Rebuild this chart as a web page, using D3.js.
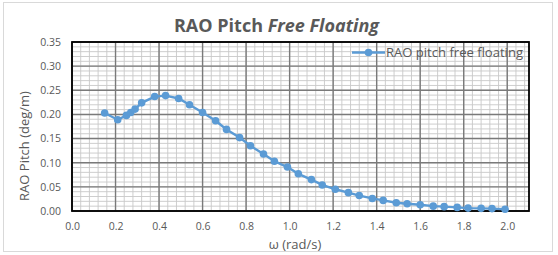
<!DOCTYPE html>
<html lang="en">
  <head>
    <meta charset="UTF-8" />
    <title>RAO Pitch Free Floating</title>
    <style>
      body { margin: 0; background: #fff; }
      text { font-family: "Open Sans", "Liberation Sans", sans-serif; fill: #595959; }
    </style>
  </head>
  <body>
    <svg width="558" height="255"></svg>
    <script src="https://cdnjs.cloudflare.com/ajax/libs/d3/7.8.5/d3.min.js"></script>
    <script>
      // values
      var omega = [0.15, 0.21, 0.25, 0.27, 0.29, 0.32, 0.38, 0.43, 0.49, 0.54,
        0.60, 0.66, 0.71, 0.77, 0.82, 0.88, 0.93, 0.99, 1.04, 1.10,
        1.15, 1.21, 1.27, 1.32, 1.38, 1.43, 1.49, 1.54, 1.60, 1.66,
        1.71, 1.77, 1.82, 1.88, 1.93, 1.99];
      var raoPitch = [0.203, 0.189, 0.198, 0.204, 0.211, 0.224, 0.237, 0.239, 0.233, 0.220,
        0.204, 0.187, 0.169, 0.152, 0.135, 0.118, 0.103, 0.091, 0.077, 0.065,
        0.054, 0.045, 0.038, 0.032, 0.026, 0.022, 0.017, 0.015, 0.013, 0.010,
        0.009, 0.0075, 0.006, 0.0055, 0.005, 0.0035];
      var xTicks = [0, 0.2, 0.4, 0.6, 0.8, 1.0, 1.2, 1.4, 1.6, 1.8, 2.0];
      var yTicks = [0, 0.05, 0.1, 0.15, 0.2, 0.25, 0.3, 0.35];
      var seriesName = "RAO pitch free floating";

      var svg = d3.select("svg");
      var m = { left: 72, right: 529, top: 42, bottom: 211 };

      var x = d3.scaleLinear().domain([0, 2.1]).range([m.left, m.right]);
      var y = d3.scaleLinear().domain([0, 0.35]).range([m.bottom, m.top]);

      // outer chart frame
      svg.append("rect")
        .attr("x", 3.5).attr("y", 2.5).attr("width", 549).attr("height", 249)
        .attr("fill", "#fff").attr("stroke", "#d9d9d9");

      // minor grid
      var g = svg.append("g");
      g.selectAll(".mx").data(d3.range(0, 2.1001, 0.04))
        .enter().append("line")
        .attr("x1", d => x(d)).attr("x2", d => x(d))
        .attr("y1", m.top).attr("y2", m.bottom)
        .attr("stroke", "#c8c8c8").attr("stroke-width", 0.9);
      g.selectAll(".my").data(d3.range(0, 0.3501, 0.01))
        .enter().append("line")
        .attr("y1", d => y(d)).attr("y2", d => y(d))
        .attr("x1", m.left).attr("x2", m.right)
        .attr("stroke", "#c8c8c8").attr("stroke-width", 0.9);

      // major grid
      g.selectAll(".Mx").data(xTicks)
        .enter().append("line")
        .attr("x1", d => x(d)).attr("x2", d => x(d))
        .attr("y1", m.top).attr("y2", m.bottom)
        .attr("stroke", "#7a7a7a").attr("stroke-width", 1.4);
      g.selectAll(".My").data(yTicks)
        .enter().append("line")
        .attr("y1", d => y(d)).attr("y2", d => y(d))
        .attr("x1", m.left).attr("x2", m.right)
        .attr("stroke", "#7a7a7a").attr("stroke-width", 1.4);

      // plot border
      svg.append("rect")
        .attr("x", m.left).attr("y", m.top)
        .attr("width", m.right - m.left).attr("height", m.bottom - m.top)
        .attr("fill", "none").attr("stroke", "#000").attr("stroke-width", 1.8);

      // axes
      var xAxis = svg.append("g")
        .attr("transform", "translate(0," + (m.bottom + 4) + ")")
        .call(d3.axisBottom(x).tickValues(xTicks).tickFormat(d3.format(".1f")).tickSize(0).tickPadding(8));
      var yAxis = svg.append("g")
        .attr("transform", "translate(" + (m.left - 11) + ",0)")
        .call(d3.axisLeft(y).tickValues(yTicks).tickFormat(d3.format(".2f")).tickSize(0).tickPadding(0));
      [xAxis, yAxis].forEach(function (a) {
        a.select(".domain").remove();
        a.selectAll("text").attr("font-size", 10.5).attr("fill", "#595959")
          .attr("font-family", "\"Open Sans\", sans-serif");
      });

      // series
      var pts = omega.map((w, i) => [w, raoPitch[i]]);
      var line = d3.line().x(d => x(d[0])).y(d => y(d[1]));
      svg.append("path").datum(pts)
        .attr("d", line).attr("fill", "none")
        .attr("stroke", "#5b9bd5").attr("stroke-width", 2.4);
      svg.selectAll(".pt").data(pts).enter().append("circle")
        .attr("cx", d => x(d[0])).attr("cy", d => y(d[1])).attr("r", 3.8)
        .attr("fill", "#5b9bd5");

      // legend (drawn straight over the grid)
      var lg = svg.append("g");
      lg.append("line").attr("x1", 352).attr("x2", 385).attr("y1", 52.5).attr("y2", 52.5)
        .attr("stroke", "#5b9bd5").attr("stroke-width", 2.4);
      lg.append("circle").attr("cx", 368.5).attr("cy", 52.5).attr("r", 3.8).attr("fill", "#5b9bd5");
      lg.append("text").attr("x", 386).attr("y", 57).attr("font-size", 13)
        .attr("textLength", 137).attr("lengthAdjust", "spacingAndGlyphs")
        .attr("fill", "#404040").text(seriesName);

      // title
      var t = svg.append("text").attr("x", 276.5).attr("y", 32).attr("text-anchor", "middle")
        .attr("font-size", 18).attr("font-weight", "bold");
      t.append("tspan").text("RAO Pitch ");
      t.append("tspan").attr("font-style", "italic").text("Free Floating");

      // axis titles
      svg.append("text").attr("x", 295).attr("y", 249).attr("text-anchor", "middle")
        .attr("font-size", 13).text("\u03c9 (rad/s)");
      svg.append("text").attr("transform", "translate(28.5,146) rotate(-90)")
        .attr("text-anchor", "middle").attr("font-size", 13).text("RAO Pitch (deg/m)");
    </script>
  </body>
</html>
